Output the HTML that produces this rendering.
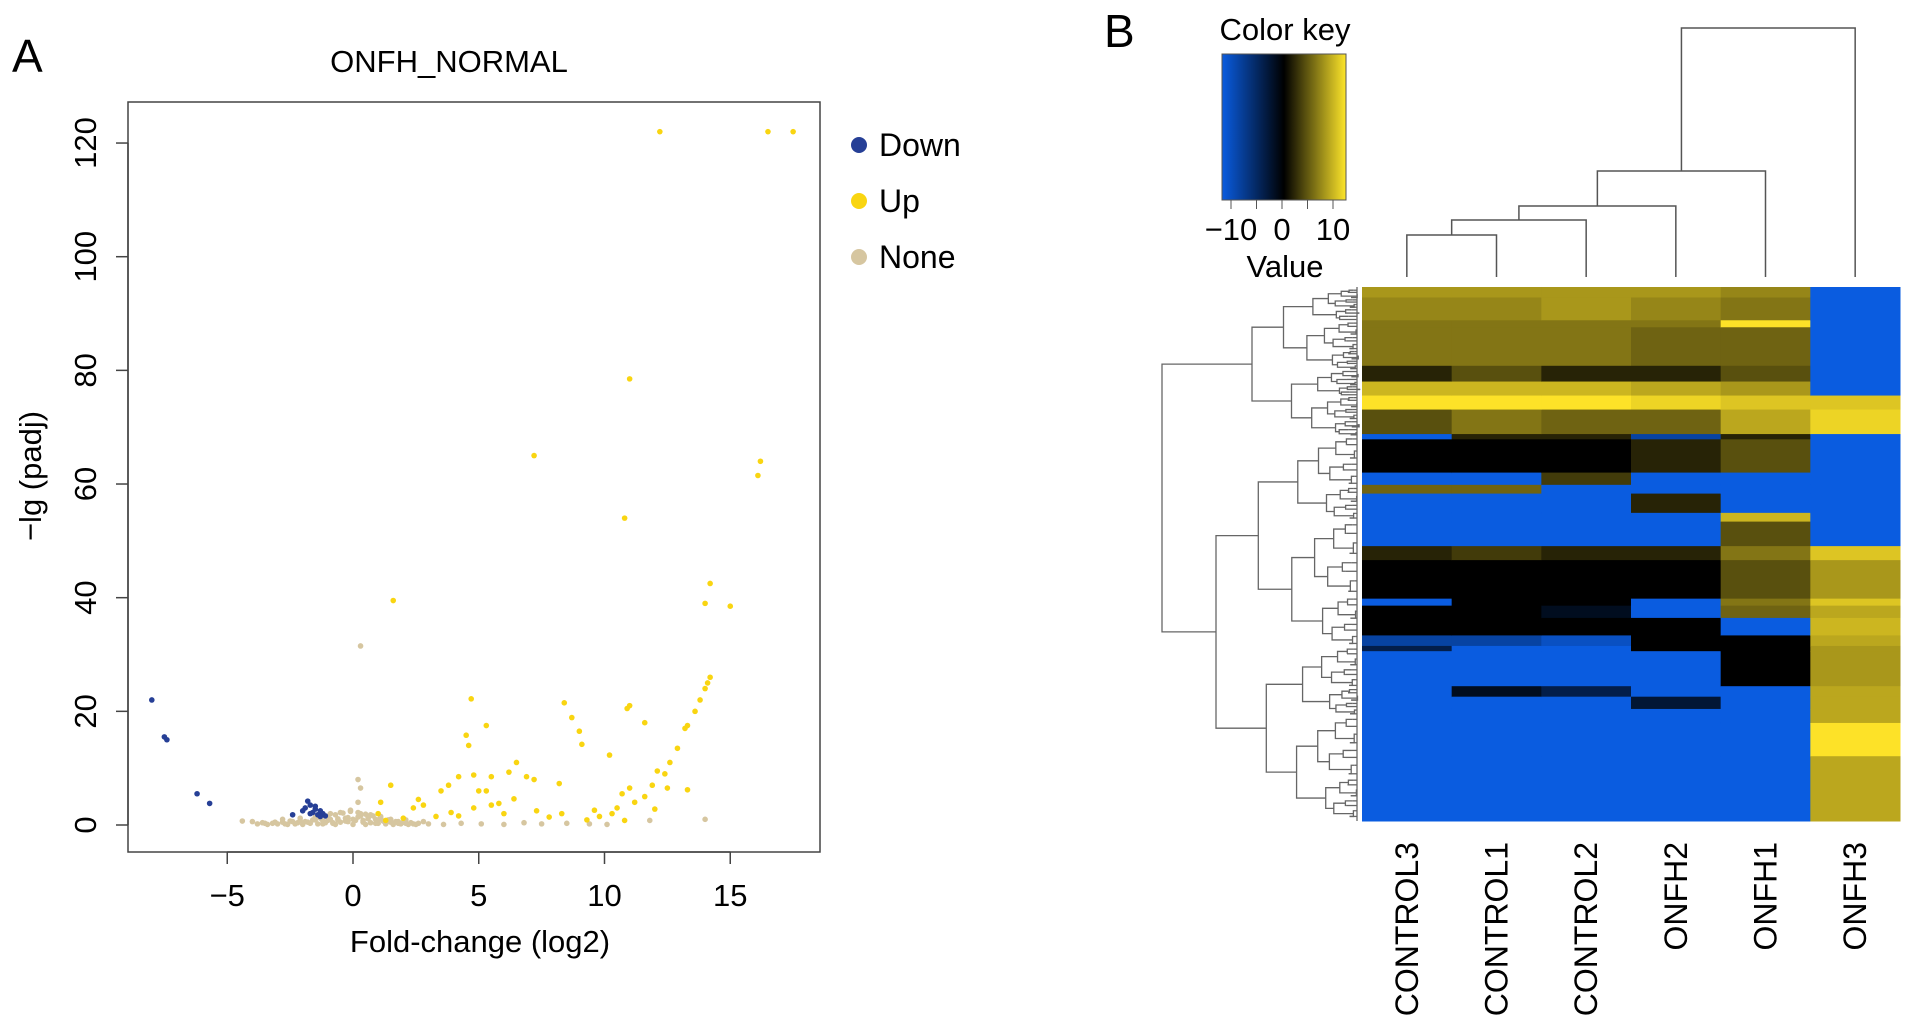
<!DOCTYPE html>
<html><head><meta charset="utf-8">
<style>
body{margin:0;background:#fff;}
svg{display:block;font-family:"Liberation Sans",Arial,sans-serif;}
</style></head>
<body>
<svg id="fig" width="1913" height="1032" viewBox="0 0 1913 1032">
 <g id="panelA"></g>
 <g id="panelB"></g>
</svg>
<script>
// ---------- Volcano data ----------
const upX=[12.2,16.5,17.5,11,7.2,16.2,16.1,10.8,14.2,14,15,1.6,4.7,8.4,11,10.9,8.7,5.3,11.6,9,4.5,4.6,9.1,10.2,14.2,14.1,14,13.8,13.6,13.3,13.2,12.9,12.6,12.4,12.1,11.9,6.5,6.2,4.8,4.2,5.5,3.8,3.5,1.5,1.1,1.0,2.6,2.8,2.4,3.3,4.2,5,5.3,5.5,5.8,6.4,6.9,8.2,7.2,7.3,8.3,9.6,9.8,10.5,10.7,11,11.2,10.3,13.3,12.5,11.6,12,4.8,3.9,2.0,1.3,6,7.8,9.3,10.8];
const upY=[122,122,122,78.5,65,64,61.5,54,42.5,39,38.5,39.5,22.2,21.5,21,20.5,18.9,17.5,18,16.5,15.8,14,14.2,12.3,26,25,24,22,20,17.5,17,13.5,11,9,9.5,7,11,9.3,8.8,8.5,8.5,7,6,7,4,2,4.5,3.5,3,1.5,1.6,6,6,3.5,3.8,4.6,8.5,7.3,8,2.5,2,2.6,1.5,3,5.5,6.5,4,2,6.2,6.5,5,2.8,3,2.2,1.2,0.8,2,1.4,0.9,0.8];
const downX=[-8,-7.5,-7.4,-6.2,-5.7,-2.4,-1.8,-1.7,-1.9,-1.5,-1.6,-1.3,-1.2,-1.4,-1.7,-2,-1.1,-1.5,-1.3];
const downY=[22,15.5,15,5.5,3.8,1.8,4.2,3.5,3,2.8,2.2,2.5,2,1.8,2,2.5,1.6,3.3,1.5];
const noneX=[0.3,0.2,0.3,0.2,14,11.8,-4.4,-4,-3.6,-3.2,-2.8,-2.5,-2.2,-1.9,-1.6,-1.3,-1,-0.7,-0.4,-0.1,0.2,0.5,0.8,1.1,1.4,1.7,2,2.3,2.6,-3.8,-3.4,-3,-2.6,-2.3,-2,-1.7,-1.4,-1.1,-0.8,-0.5,-0.2,0.1,0.4,0.7,1,1.3,1.6,1.9,2.2,2.5,-1,-0.6,-0.2,0.2,0.6,1.0,-0.8,-0.3,0.4,0.9,3,3.6,4.3,5.1,6,6.8,7.5,8.5,9.4,10.1,-2.8,-2.1,-1.5,1.5,2.1,2.8,-3.5,-3.1,-2.7,-2.4,-2.1,-1.8,-1.5,-1.2,-0.9,-0.6,-0.3,0,0.3,0.6,0.9,1.2,1.5,1.8,2.1,2.4,-0.9,-0.5,-0.1,0.3,0.7,1.1,-1.2,-0.7,0.0,0.5,1.3,1.8];
const noneY=[31.5,8,6.5,4,1,0.8,0.7,0.6,0.4,0.3,0.5,0.7,0.4,0.6,0.9,1.2,1.5,1.8,2.1,2.4,2.2,1.9,1.6,1.2,0.9,0.6,0.5,0.4,0.3,0.2,0.1,0.2,0.1,0.2,0.1,0.3,0.2,0.4,0.3,0.5,0.6,0.8,0.5,0.4,0.3,0.2,0.1,0.2,0.1,0.1,0.8,1.1,1.3,1.4,1.1,0.9,0.4,0.7,0.8,0.3,0.2,0.1,0.3,0.2,0.1,0.4,0.2,0.3,0.2,0.1,1.0,1.2,1.4,1.0,0.9,0.6,0.3,0.5,0.2,0.6,0.8,0.5,0.9,0.7,1.0,0.9,1.2,1.0,1.6,1.3,1.0,0.7,0.5,0.6,0.3,0.2,2.0,2.2,2.6,2.0,1.8,1.5,0.2,0.1,0.1,0.1,0.4,0.3];
const xTicks=[-5,0,5,10,15];
const yTicks=[0,20,40,60,80,100,120];
const legendLabels=["Down","Up","None"];

// ---------- Heatmap data ----------
const sampleLabels=["CONTROL3","CONTROL1","CONTROL2","ONFH2","ONFH1","ONFH3"];
const rowEdges=[20,50,115,135,245,290,330,370,440,455,550,585,610,665,690,760,800,910,930,965,1015,1045,1060,1160,1190,1225,1265,1360,1545];
const colC3=[7,6,5,5,1,9,12,3,-12,0,-12,4,-12,-12,-12,1,0,-12,0,0,-8,-3,-12,-12,-12,-12,-12,-12];
const colC1=[7,6,5,5,3,9,12,5,1,0,-12,4,-12,-12,-12,2,0,0,0,0,-8,-12,-12,-1,-12,-12,-12,-12];
const colC2=[7,7,5,5,1,9,12,4,1,0,2,-12,-12,-12,-12,1,0,0,-1,0,-10,-12,-12,-3,-12,-12,-12,-12];
const colO2=[7,6,5,4,1,8,11,4,-8,1,-12,-12,1,-12,-12,1,0,-12,-12,0,0,0,-12,-12,-2,-12,-12,-12];
const colO1=[6,5,12,4,3,7,10,8,1,3,-12,-12,-12,9,3,5,3,5,4,-12,0,0,0,-12,-12,-12,-12,-12];
const colO3=[-12,-12,-12,-12,-12,-12,10,11,-12,-12,-12,-12,-12,-12,-12,10,7,10,8,9,8,7,7,8,8,8,12,8];
const keyTicks=[-10,0,10];

const NS="http://www.w3.org/2000/svg";
function mk(parent,tag,attrs){const e=document.createElementNS(NS,tag);for(const k in attrs)e.setAttribute(k,attrs[k]);parent.appendChild(e);return e;}

// ---------- Panel A ----------
const A=document.getElementById('panelA');
const L=128,R=820,T=102,B=852;
const sx=v=>353+v*25.15, sy=v=>825-v*5.683;
let t;
t=mk(A,'text',{x:12,y:72,'font-size':46});t.textContent='A';

t=mk(A,'text',{x:449,y:72,'font-size':31,'text-anchor':'middle'});t.textContent='ONFH_NORMAL';

const pts=mk(A,'g',{});

function plotSeries(xs,ys,col,name){const g=mk(pts,'g',{fill:col});

xs.forEach((x,i)=>{const c=mk(g,'circle',{cx:sx(x),cy:sy(ys[i]),r:2.8});
});}
plotSeries(noneX,noneY,'#d6c6a0','none-series');
plotSeries(upX,upY,'#f9d511','up-series');
plotSeries(downX,downY,'#263f96','down-series');
let r=mk(A,'rect',{x:L,y:T,width:R-L,height:B-T,fill:'none',stroke:'#444','stroke-width':1.5});

const xa=mk(A,'g',{});
mk(xa,'line',{x1:sx(-5),x2:sx(15),y1:B,y2:B,stroke:'#444','stroke-width':1.5});
xTicks.forEach(v=>{mk(xa,'line',{x1:sx(v),x2:sx(v),y1:B,y2:B+12,stroke:'#444','stroke-width':1.5});
const tt=mk(xa,'text',{x:sx(v),y:906,'font-size':31,'text-anchor':'middle'});tt.textContent=(v<0?'\u2212'+(-v):v);
});
t=mk(A,'text',{x:480,y:952,'font-size':31,'text-anchor':'middle'});t.textContent='Fold-change (log2)';

const ya=mk(A,'g',{});
mk(ya,'line',{x1:L,x2:L,y1:sy(0),y2:sy(120),stroke:'#444','stroke-width':1.5});
yTicks.forEach(v=>{mk(ya,'line',{x1:L-12,x2:L,y1:sy(v),y2:sy(v),stroke:'#444','stroke-width':1.5});
const tt=mk(ya,'text',{x:0,y:0,'font-size':31,'text-anchor':'middle',transform:`translate(96,${sy(v)}) rotate(-90)`});tt.textContent=v;
});
t=mk(A,'text',{x:0,y:0,'font-size':31,'text-anchor':'middle',transform:'translate(41,476) rotate(-90)'});t.textContent='\u2212lg (padj)';

const lg=mk(A,'g',{});
const lcols=['#263f96','#f9d511','#d6c6a0'];
legendLabels.forEach((s,i)=>{const y=145+i*56;
const c=mk(lg,'circle',{cx:859,cy:y,r:8,fill:lcols[i]});
const tt=mk(lg,'text',{x:879,y:y+11,'font-size':32});tt.textContent=s;
});

// ---------- Panel B ----------
const P=document.getElementById('panelB');
t=mk(P,'text',{x:1104,y:47,'font-size':46});t.textContent='B';

function colr(v){let f=Math.max(-1,Math.min(1,v/12));
if(f<0){const a=Math.pow(-f,0.8);return `rgb(${Math.round(10*a)},${Math.round(92*a)},${Math.round(224*a)})`;}
f=Math.pow(f,0.75);
return `rgb(${Math.round(253*f)},${Math.round(226*f)},${Math.round(40*f)})`;}
const HL=1362,HR=1900,HT=287,HB=821;
const cw=(HR-HL)/6;
const hy=z=>HT+(z-20)/1525*(HB-HT);
const cols=[colC3,colC1,colC2,colO2,colO1,colO3];
const hm=mk(P,'g',{});
cols.forEach((arr,ci)=>{arr.forEach((v,ri)=>{const y0=hy(rowEdges[ri]),y1=hy(rowEdges[ri+1]);
const c=mk(hm,'rect',{x:HL+ci*cw,y:y0,width:cw+0.5,height:y1-y0+0.5,fill:colr(v)});
});});
sampleLabels.forEach((s,i)=>{const cx=HL+(i+0.5)*cw;
const tt=mk(P,'text',{x:0,y:0,'font-size':32,'text-anchor':'end',transform:`translate(${cx+11},842) rotate(-90)`});tt.textContent=s;
});
// column dendrogram
const cd=mk(P,'g',{stroke:'#555','stroke-width':1.5,fill:'none'});
const cx=i=>HL+(i+0.5)*cw;
function link(x1,y1,x2,y2,h){mk(cd,'path',{d:`M${x1},${y1}V${h}H${x2}V${y2}`});}
const leafY=277;
link(cx(0),leafY,cx(1),leafY,235);
const m1=(cx(0)+cx(1))/2;link(m1,235,cx(2),leafY,220);
const m2=(m1+cx(2))/2;link(m2,220,cx(3),leafY,206);
const m3=(m2+cx(3))/2;link(m3,206,cx(4),leafY,171);
const m4=(m3+cx(4))/2;link(m4,171,cx(5),leafY,28);
// row dendrogram (deterministic recursive)
const rd=mk(P,'g',{stroke:'#666','stroke-width':1.3,fill:'none'});
const RX=1357;
function tree(y0,y1,x,depth){
 if(depth>6||y1-y0<4){mk(rd,'path',{d:`M${x},${(y0+y1)/2}H${RX}`});return (y0+y1)/2;}
 const s=[0.45,0.55,0.4,0.6,0.5][depth%5];const ym=y0+(y1-y0)*s;
 const nx=x+(RX-x)*[0.35,0.3,0.4,0.35,0.45,0.5,0.6][depth];
 const a=tree(y0,ym,nx,depth+1),b=tree(ym,y1,nx+((depth%2)?8:-6),depth+1);
 mk(rd,'path',{d:`M${nx},${a}H${x}V${b}H${nx+((depth%2)?8:-6)}`});return (a+b)/2;}
const ysp=hy(445);
const a1=tree(HT+2,ysp,1252,1),b1=tree(ysp,HB-2,1216,1);
mk(rd,'path',{d:`M1252,${a1}H1162V${b1}H1216`});
mk(rd,'line',{x1:RX,x2:RX,y1:HT,y2:HB});
// color key
const ck=mk(P,'g',{});
t=mk(ck,'text',{x:1285,y:40,'font-size':31,'text-anchor':'middle'});t.textContent='Color key';

const defs=mk(ck,'defs',{});const gr=mk(defs,'linearGradient',{id:'kg',x1:0,x2:1,y1:0,y2:0});
[[0,'#0a5ce0'],[0.5,'#000'],[1,'#fde52a']].forEach(s=>mk(gr,'stop',{offset:s[0],'stop-color':s[1]}));
const KL=1222,KR=1346,KT=54,KBt=200;
r=mk(ck,'rect',{x:KL,y:KT,width:KR-KL,height:KBt-KT,fill:'url(#kg)',stroke:'#555','stroke-width':1});

const kx=v=>1282+v*5.1;
[-10,-5,0,5,10].forEach(v=>mk(ck,'line',{x1:kx(v),x2:kx(v),y1:KBt,y2:KBt+9,stroke:'#555'}));
keyTicks.forEach(v=>{const tt=mk(ck,'text',{x:kx(v),y:240,'font-size':31,'text-anchor':'middle'});tt.textContent=(v<0?'\u2212'+(-v):v);
});
t=mk(ck,'text',{x:1285,y:277,'font-size':31,'text-anchor':'middle'});t.textContent='Value';

</script>
</body></html>
